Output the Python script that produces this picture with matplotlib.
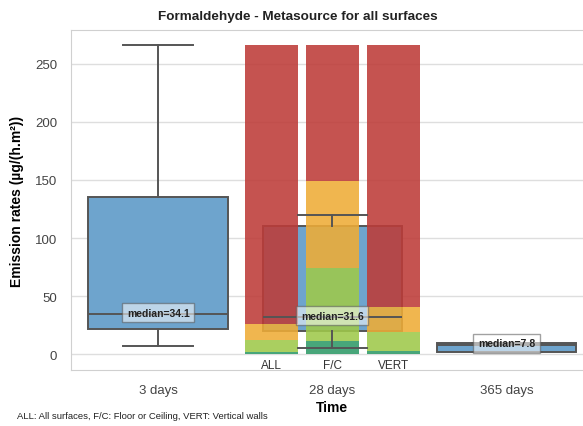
import numpy as np
import matplotlib as mpl
mpl.use('Agg')
import matplotlib.pyplot as plt

# box statistics per period
periods   = ['3 days', '28 days', '365 days']
whislo    = [6.6, 5.2, 1.5]
q1        = [21.5, 20.0, 1.5]
medians   = [34.1, 31.6, 7.8]
q3        = [135.6, 110.6, 9.5]
whishi    = [266.4, 119.8, 9.5]

# stacked ranges at 28 days (upper bound of each colour class)
surfaces  = ['ALL', 'F/C', 'VERT']
dark_top  = [1.5, 11.5, 2.3]
light_top = [12.0, 74.0, 19.2]
orange_top= [25.9, 148.9, 40.2]
red_top   = [266.6, 266.6, 266.6]

plt.rcParams['font.family'] = ['Liberation Sans', 'DejaVu Sans']

grid_c  = '#dedede'
line_c  = '#555555'
box_c   = '#6ea4cd'
cls_c   = ['#2e9a68', '#9fc94a', '#efac36', '#bd3b38']

fig = plt.figure(figsize=(5.83, 4.27), dpi=100)
ax = fig.add_axes([0.1218, 0.1311, 0.8967, 0.7963])

for s in ax.spines.values():
    s.set_color('#d0d0d0')
ax.yaxis.grid(True, color=grid_c, lw=1, zorder=0)
ax.set_axisbelow(True)
ax.tick_params(length=0, colors='#444444', labelsize=9.5)
ax.tick_params(axis='y', pad=10)

stats = []
for i in range(len(periods)):
    stats.append(dict(whislo=whislo[i], q1=q1[i], med=medians[i], q3=q3[i], whishi=whishi[i]))
pos = np.arange(len(periods))
bp = ax.bxp(stats, positions=pos, widths=0.8, showfliers=False, patch_artist=True)
for b in bp['boxes']:
    b.set(facecolor=box_c, edgecolor=line_c, lw=1.4, zorder=2)
for k in ['whiskers', 'caps', 'medians']:
    for l in bp[k]:
        l.set(color=line_c, lw=1.4, zorder=5)

# stacked class bars at 28 days
offsets = np.array([-0.35, 0.0, 0.35])
xb = pos[1] + offsets
tops = np.array([dark_top, light_top, orange_top, red_top])
bottom = np.zeros(len(surfaces))
for j in range(tops.shape[0]):
    h = tops[j] - bottom
    ax.bar(xb, h, width=0.3, bottom=bottom, color=cls_c[j], alpha=0.88, zorder=3, lw=0)
    bottom = tops[j]
for x, s in zip(xb, surfaces):
    ax.text(x, -4.0, s, ha='center', va='top', fontsize=8.5, color='#333333', zorder=6)

for i, m in enumerate(medians):
    ax.text(pos[i], m + 1.5, 'median=%.1f' % m, ha='center', va='center', fontsize=7.5,
            fontweight='bold', color='#222222', zorder=7,
            bbox=dict(boxstyle='square,pad=0.45', facecolor='white', alpha=0.55, edgecolor=line_c, lw=1))

ax.set_xlim(-0.5, 2.5)
ax.set_ylim(-13.8, 279.3)
ax.set_yticks([0, 50, 100, 150, 200, 250])
ax.set_xticks(pos)
ax.set_xticklabels(periods)
ax.tick_params(axis='x', pad=10)
ax.set_xlabel('Time', fontsize=10, fontweight='bold', labelpad=3)
ax.set_ylabel('Emission rates (µg/(h.m²))', fontsize=10, fontweight='bold', labelpad=8)
fig.text(0.51, 0.96, 'Formaldehyde - Metasource for all surfaces', ha='center', va='center',
         fontsize=9.7, fontweight='bold', color='#222222')
fig.text(0.03, 0.025, 'ALL: All surfaces, F/C: Floor or Ceiling, VERT: Vertical walls',
         ha='left', va='center', fontsize=6.8, color='#222222')

fig.savefig('out.png', dpi=100)
